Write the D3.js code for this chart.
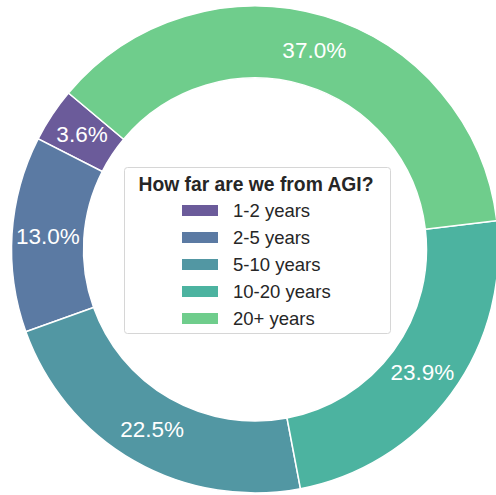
<!DOCTYPE html>
<html>
<head>
<meta charset="utf-8">
<script src="https://cdn.jsdelivr.net/npm/d3@7"></script>
<style>
  html, body { margin: 0; padding: 0; background: #fff; }
</style>
</head>
<body>
<div id="chart"></div>
<script>
const categories = ["1-2 years", "2-5 years", "5-10 years", "10-20 years", "20+ years"];
const shares = [3.6, 13.0, 22.5, 23.9, 37.0];
const colors = ["#6b5b9a", "#5b7aa3", "#5297a3", "#4cb3a0", "#6fcd8c"];
const legendTitle = "How far are we from AGI?";

const width = 496, height = 495;
const cx = 255, cy = 249.5;
const outerR = 243.5, innerR = 171.5;

const svg = d3.select("#chart").append("svg")
  .attr("width", width)
  .attr("height", height);

const data = categories.map((c, i) => ({ name: c, value: shares[i], color: colors[i] }));

// matplotlib style: start at 140 deg, going counterclockwise
const start = (90 - 140) * Math.PI / 180;
const pie = d3.pie()
  .sort(null)
  .value(d => d.value)
  .startAngle(start)
  .endAngle(start - 2 * Math.PI);

const arc = d3.arc().innerRadius(innerR).outerRadius(outerR);
const labelArc = d3.arc().innerRadius((innerR + outerR) / 2).outerRadius((innerR + outerR) / 2);

const g = svg.append("g").attr("transform", "translate(" + cx + "," + cy + ")");

const arcs = pie(data);

g.selectAll("path")
  .data(arcs)
  .enter().append("path")
  .attr("d", arc)
  .attr("fill", d => d.data.color)
  .attr("stroke", "white")
  .attr("stroke-width", 1.5);

g.selectAll("text.pct")
  .data(arcs)
  .enter().append("text")
  .attr("class", "pct")
  .attr("transform", d => "translate(" + labelArc.centroid(d) + ")")
  .attr("text-anchor", "middle")
  .attr("dominant-baseline", "central")
  .attr("font-family", "Liberation Sans, Arial, sans-serif")
  .attr("font-size", "22.5px")
  .attr("fill", "white")
  .text(d => d.data.value.toFixed(1) + "%");

// Legend
const legX = 124, legY = 167, legW = 266, legH = 166;
const leg = svg.append("g");

leg.append("rect")
  .attr("x", legX + 0.5)
  .attr("y", legY + 0.5)
  .attr("width", legW)
  .attr("height", legH)
  .attr("rx", 3)
  .attr("fill", "white")
  .attr("stroke", "#d6d6d6")
  .attr("stroke-width", 1);

leg.append("text")
  .attr("x", legX + legW / 2 - 1)
  .attr("y", 184)
  .attr("text-anchor", "middle")
  .attr("dominant-baseline", "central")
  .attr("font-family", "Liberation Sans, Arial, sans-serif")
  .attr("font-size", "19.3px")
  .attr("font-weight", "bold")
  .attr("fill", "#262626")
  .text(legendTitle);

const rows = leg.selectAll("g.row")
  .data(data)
  .enter().append("g")
  .attr("class", "row")
  .attr("transform", (d, i) => "translate(0," + (210.5 + i * 27) + ")");

rows.append("rect")
  .attr("x", 182)
  .attr("y", -5.5)
  .attr("width", 36)
  .attr("height", 11)
  .attr("fill", d => d.color);

rows.append("text")
  .attr("x", 233)
  .attr("y", 0)
  .attr("dominant-baseline", "central")
  .attr("font-family", "Liberation Sans, Arial, sans-serif")
  .attr("font-size", "18.5px")
  .attr("fill", "#262626")
  .text(d => d.name);
</script>
</body>
</html>
